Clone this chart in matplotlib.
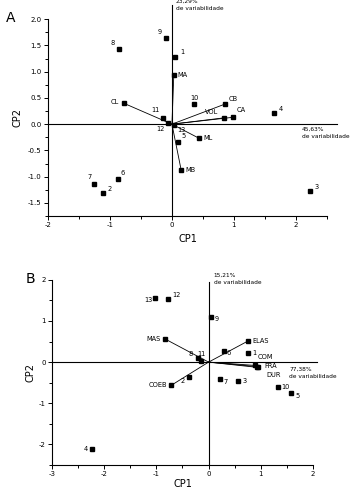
import matplotlib
matplotlib.use('Agg')
import matplotlib.pyplot as plt
from matplotlib.ticker import MultipleLocator, FormatStrFormatter

plt.rcParams['axes.unicode_minus'] = False
plt.rcParams['font.family'] = 'DejaVu Sans'

# Painel A - escores (acessos)
nomes_a = ['1', '2', '3', '4', '5', '6', '7', '8', '9', '10', '11', '12', '13']
cp1_a = [0.05, -1.11, 2.23, 1.64, 0.10, -0.87, -1.25, -0.86, -0.10, 0.36, -0.15, -0.07, 0.03]
cp2_a = [1.28, -1.31, -1.28, 0.21, -0.34, -1.05, -1.14, 1.43, 1.64, 0.38, 0.11, 0.02, -0.02]

# Painel A - variaveis (vetores)
var_a = ['MA', 'MB', 'ML', 'CA', 'CB', 'CL', 'VOL']
var_cp1_a = [0.03, 0.15, 0.44, 0.98, 0.85, -0.78, 0.84]
var_cp2_a = [0.93, -0.88, -0.27, 0.13, 0.38, 0.40, 0.12]

# Painel B - escores
nomes_b = ['1', '2', '3', '4', '5', '6', '7', '8', '9', '10', '11', '12', '13']
cp1_b = [0.75, -0.38, 0.57, -2.23, 1.58, 0.29, 0.21, -0.21, 0.04, 1.32, -0.15, -0.77, -1.02]
cp2_b = [0.22, -0.37, -0.46, -2.12, -0.76, 0.27, -0.41, 0.10, 1.10, -0.60, 0.02, 1.54, 1.56]

# Painel B - variaveis
var_b = ['MAS', 'ELAS', 'COM', 'FRA', 'DUR', 'COEB']
var_cp1_b = [-0.83, 0.75, 0.88, 0.93, 0.95, -0.71]
var_cp2_b = [0.56, 0.51, -0.08, -0.11, -0.13, -0.56]

# deslocamento dos rotulos em pixels (dx, dy, alinhamento)
rot_a = {'1': (5, 5, 'left'), '2': (4, 4, 'left'), '3': (4, 4, 'left'), '4': (5, 4, 'left'),
         '5': (3, 6, 'left'), '6': (3, 6, 'left'), '7': (-3, 7, 'right'), '8': (-4, 6, 'right'),
         '9': (-4, 6, 'right'), '10': (0, 6, 'center'), '11': (-3, 8, 'right'), '12': (-3, -6, 'right'),
         '13': (3, -5, 'left'),
         'MA': (4, 0, 'left'), 'MB': (4, 0, 'left'), 'ML': (4, 0, 'left'), 'CA': (4, 7, 'left'),
         'CB': (4, 5, 'left'), 'CL': (-5, 1, 'right'), 'VOL': (-12, 6, 'center')}
rot_b = {'1': (4, 0, 'left'), '2': (-4, -4, 'right'), '3': (4, 0, 'left'), '4': (-4, 0, 'right'),
         '5': (4, -3, 'left'), '6': (3, -2, 'left'), '7': (4, -3, 'left'), '8': (-5, 4, 'right'),
         '9': (4, -2, 'left'), '10': (4, 0, 'left'), '11': (1, 7, 'center'), '12': (4, 4, 'left'),
         '13': (-3, -2, 'right'),
         'MAS': (-5, 0, 'right'), 'ELAS': (5, 0, 'left'), 'COM': (3, 8, 'left'), 'FRA': (7, 1, 'left'),
         'DUR': (8, -8, 'left'), 'COEB': (-4, 0, 'right')}

fig = plt.figure(figsize=(3.55, 4.9), dpi=100)
ax_a = fig.add_axes([0.135, 0.559, 0.786, 0.402])
ax_b = fig.add_axes([0.146, 0.051, 0.736, 0.378])


def desenhar(ax, nomes, x, y, var, vx, vy, rot):
    # vetores das variaveis
    for n, a, b in zip(var, vx, vy):
        ax.plot([0, a], [0, b], color='black', lw=0.6)
        ax.plot(a, b, 's', color='black', ms=2.8)
        dx, dy, ha = rot[n]
        ax.annotate(n, (a, b), xytext=(dx, dy), textcoords='offset pixels',
                    ha=ha, va='center', fontsize=4.8)
    # escores
    ax.plot(x, y, 's', color='black', ms=2.8, ls='none')
    for n, a, b in zip(nomes, x, y):
        dx, dy, ha = rot[n]
        ax.annotate(n, (a, b), xytext=(dx, dy), textcoords='offset pixels',
                    ha=ha, va='center', fontsize=4.8)
    for s in ['top', 'right']:
        ax.spines[s].set_visible(False)
    for s in ['left', 'bottom']:
        ax.spines[s].set_linewidth(0.8)
    ax.tick_params(which='both', direction='out', labelsize=5, width=0.7, pad=1.5)
    ax.tick_params(which='major', length=3)
    ax.tick_params(which='minor', length=2)


# Painel A
desenhar(ax_a, nomes_a, cp1_a, cp2_a, var_a, var_cp1_a, var_cp2_a, rot_a)
ax_a.set_xlim(-2, 2.5)
ax_a.set_ylim(-1.75, 2.0)
ax_a.xaxis.set_major_locator(MultipleLocator(1))
ax_a.xaxis.set_minor_locator(MultipleLocator(0.5))
ax_a.yaxis.set_major_locator(MultipleLocator(0.5))
ax_a.yaxis.set_minor_locator(MultipleLocator(0.25))
ax_a.yaxis.set_major_formatter(FormatStrFormatter('%.1f'))
ax_a.plot([-2, 2.67], [0, 0], color='black', lw=0.8, clip_on=False)
ax_a.plot([0, 0], [-1.75, 2.27], color='black', lw=0.8, clip_on=False)
ax_a.text(0.06, 2.27, '23,29%\nde variabilidade', fontsize=4.2, va='center', linespacing=1.6)
ax_a.text(2.1, -0.17, '45,63%\nde variabilidade', fontsize=4.2, va='center', linespacing=1.6)
ax_a.set_xlabel('CP1', fontsize=7, labelpad=4)
ax_a.set_ylabel('CP2', fontsize=7, labelpad=4)
fig.text(0.018, 0.963, 'A', fontsize=10, va='center')

# Painel B
desenhar(ax_b, nomes_b, cp1_b, cp2_b, var_b, var_cp1_b, var_cp2_b, rot_b)
ax_b.set_xlim(-3, 2)
ax_b.set_ylim(-2.5, 2)
ax_b.xaxis.set_major_locator(MultipleLocator(1))
ax_b.xaxis.set_minor_locator(MultipleLocator(0.5))
ax_b.yaxis.set_major_locator(MultipleLocator(1))
ax_b.yaxis.set_minor_locator(MultipleLocator(0.5))
ax_b.plot([-3, 2.07], [0, 0], color='black', lw=0.8, clip_on=False)
ax_b.plot([0, 0], [-2.5, 1.95], color='black', lw=0.8, clip_on=False)
ax_b.text(0.1, 2.03, '15,21%\nde variabilidade', fontsize=4.2, va='center', linespacing=1.6)
ax_b.text(1.54, -0.27, '77,38%\nde variabilidade', fontsize=4.2, va='center', linespacing=1.6)
ax_b.set_xlabel('CP1', fontsize=7, labelpad=1)
ax_b.set_ylabel('CP2', fontsize=7, labelpad=2)
fig.text(0.072, 0.43, 'B', fontsize=10, va='center')

plt.savefig('out.png', dpi=100)
